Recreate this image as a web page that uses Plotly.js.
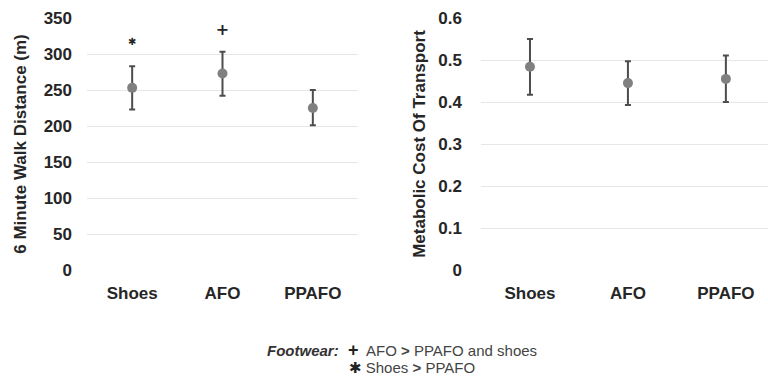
<!DOCTYPE html>
<html>
<head>
<meta charset="utf-8">
<script src="https://cdn.plot.ly/plotly-3.0.1.min.js"></script>
<style>html,body{margin:0;padding:0;background:#fff;}#chart{width:768px;height:376px;}</style>
</head>
<body>
<div id="chart"></div>
<script>
// Data
var categories = ['Shoes', 'AFO', 'PPAFO'];
var walkMean = [253, 273, 225];
var walkUpper = [283, 303, 250];
var walkLower = [223, 242, 201];
var walkSigY = [316, 332, null];
var walkSigText = ['\u2731', '+', ''];
var costMean = [0.484, 0.445, 0.455];
var costUpper = [0.550, 0.497, 0.511];
var costLower = [0.417, 0.393, 0.400];
var walkTicks = [0, 50, 100, 150, 200, 250, 300, 350];
var costTicks = [0, 0.1, 0.2, 0.3, 0.4, 0.5, 0.6];

function diff(a, b) { return a.map(function (v, i) { return v - b[i]; }); }

var markerColor = '#808080';
var errColor = '#4d4d4d';
var textColor = '#262626';
var FONT = 'Liberation Sans, Arial, sans-serif';

var traces = [
  {
    x: categories, y: walkMean, xaxis: 'x', yaxis: 'y', type: 'scatter', mode: 'markers',
    marker: {color: markerColor, size: 10},
    error_y: {type: 'data', symmetric: false, array: diff(walkUpper, walkMean), arrayminus: diff(walkMean, walkLower), color: errColor, thickness: 2, width: 3},
    cliponaxis: false, hoverinfo: 'skip'
  },
  {
    x: categories, y: walkSigY, xaxis: 'x', yaxis: 'y', type: 'scatter', mode: 'text',
    text: walkSigText, textfont: {family: 'DejaVu Sans, ' + FONT, size: [10, 16, 10], color: textColor, weight: 'bold'},
    cliponaxis: false, hoverinfo: 'skip'
  },
  {
    x: categories, y: costMean, xaxis: 'x2', yaxis: 'y2', type: 'scatter', mode: 'markers',
    marker: {color: markerColor, size: 10},
    error_y: {type: 'data', symmetric: false, array: diff(costUpper, costMean), arrayminus: diff(costMean, costLower), color: errColor, thickness: 2, width: 3},
    cliponaxis: false, hoverinfo: 'skip'
  }
];

var tickFont = {family: FONT, size: 17, color: textColor, weight: 'bold'};
var ML = 87, MT = 18, MB = 106, W = 768, H = 376;
var PW = W - ML, PH = H - MT - MB;
function px(x) { return (x - ML) / PW; }
function py(y) { return (H - MB - y) / PH; }

var layout = {
  width: W, height: H,
  margin: {l: ML, r: 0, t: MT, b: MB, pad: 0},
  paper_bgcolor: '#fff', plot_bgcolor: '#fff',
  showlegend: false,
  font: {family: FONT, color: textColor},
  xaxis: {
    domain: [0, px(358)], range: [-0.5, 2.5], type: 'category',
    showgrid: false, zeroline: false, showline: false, ticks: '',
    tickfont: tickFont, ticklabelstandoff: 11, fixedrange: true
  },
  yaxis: {
    domain: [0, 1], range: [0, 350], tickvals: walkTicks,
    showgrid: true, gridcolor: '#e6e6e6', gridwidth: 1, zeroline: false, showline: false, ticks: '',
    tickfont: tickFont, ticklabelstandoff: 14,
    title: {text: '<b>6 Minute Walk Distance (m)</b>', font: {family: FONT, size: 17, color: textColor}, standoff: 12},
    fixedrange: true
  },
  xaxis2: {
    domain: [px(481), 1], range: [-0.5, 2.43], type: 'category', anchor: 'y2',
    showgrid: false, zeroline: false, showline: false, ticks: '',
    tickfont: tickFont, ticklabelstandoff: 11, fixedrange: true
  },
  yaxis2: {
    domain: [0, 1], range: [0, 0.6], tickvals: costTicks, anchor: 'x2',
    showgrid: true, gridcolor: '#e6e6e6', gridwidth: 1, zeroline: false, showline: false, ticks: '',
    tickfont: tickFont, ticklabelstandoff: 18,
    title: {text: '<b>Metabolic Cost Of Transport</b>', font: {family: FONT, size: 17, color: textColor}, standoff: 8},
    fixedrange: true
  },
  annotations: [
    {xref: 'paper', yref: 'paper', x: px(341), y: py(350), xanchor: 'right', yanchor: 'middle', showarrow: false,
     text: '<b><i>Footwear:</i></b>', font: {family: FONT, size: 15, color: '#333'}},
    {xref: 'paper', yref: 'paper', x: px(346), y: py(350), xanchor: 'left', yanchor: 'middle', showarrow: false,
     text: '<b style="font-size:18px;color:#222">+</b>  AFO <b>&gt;</b> PPAFO and shoes', font: {family: FONT, size: 15, color: '#444'}},
    {xref: 'paper', yref: 'paper', x: px(347), y: py(368), xanchor: 'left', yanchor: 'middle', showarrow: false,
     text: '<span style="font-family:DejaVu Sans;color:#222">\u2731</span> Shoes <b>&gt;</b> PPAFO', font: {family: FONT, size: 15, color: '#444'}}
  ]
};

Plotly.newPlot('chart', traces, layout, {staticPlot: true, displayModeBar: false});
</script>
</body>
</html>
